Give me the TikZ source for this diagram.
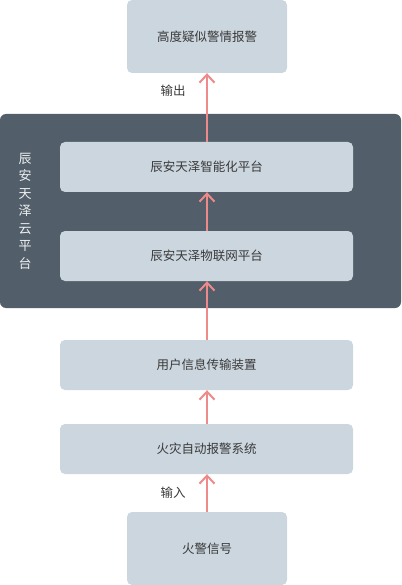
\documentclass[tikz,border=0pt]{standalone}
\usepackage{fontspec}
\newfontfamily\cjk{Noto Sans CJK SC}
\usetikzlibrary{arrows.meta,positioning}
\definecolor{boxgray}{HTML}{CBD6DF}
\definecolor{platgray}{HTML}{525E69}
\definecolor{arrpink}{HTML}{EE8A8A}
\definecolor{txtgray}{HTML}{3A3A3A}

\begin{document}
\begin{tikzpicture}[x=1pt, y=-1pt,
    box/.style={rectangle, fill=boxgray, rounded corners=5pt, inner sep=0pt,
                minimum width=293pt, minimum height=50pt, align=center,
                text=txtgray, font=\cjk\fontsize{12.5}{15}\selectfont},
    endbox/.style={box, minimum width=160pt, minimum height=73pt},
    arr/.style={-{Straight Barb[length=8pt,width=15pt]}, line width=2pt, arrpink},
    lbl/.style={text=txtgray, font=\cjk\fontsize{12.5}{15}\selectfont}
]
    \useasboundingbox (0,0) rectangle (401,585);
    % cloud platform
    \node[rectangle, fill=platgray, rounded corners=6pt, minimum width=401pt,
          minimum height=194pt, inner sep=0pt] (plat) at (200.5,211) {};
    \node[align=center, text=white!90!platgray, inner sep=0pt,
          font=\cjk\fontsize{13}{17.5}\selectfont] (platname) at (25,211)
          {辰\\安\\天\\泽\\云\\平\\台};

    \node[endbox] (alarm) at (207,36.5) {高度疑似警情报警};
    \node[box] (smart) at (206.5,167) {辰安天泽智能化平台};
    \node[box] (iot) at (206.5,256) {辰安天泽物联网平台};
    \node[box] (uitd) at (206.5,365) {用户信息传输装置};
    \node[box] (fas) at (206.5,449) {火灾自动报警系统};
    \node[endbox] (signal) at (207,548.5) {火警信号};

    \draw[arr] (smart.north -| alarm.south) -- (alarm.south);
    \draw[arr] (iot.north -| alarm.south) -- (smart.south -| alarm.south);
    \draw[arr] (uitd.north -| alarm.south) -- (iot.south -| alarm.south);
    \draw[arr] (fas.north -| alarm.south) -- (uitd.south -| alarm.south);
    \draw[arr] (signal.north) -- (fas.south -| signal.north);

    \node[lbl] (out) at (173,91) {输出};
    \node[lbl] (in) at (173,493) {输入};
\end{tikzpicture}
\end{document}
